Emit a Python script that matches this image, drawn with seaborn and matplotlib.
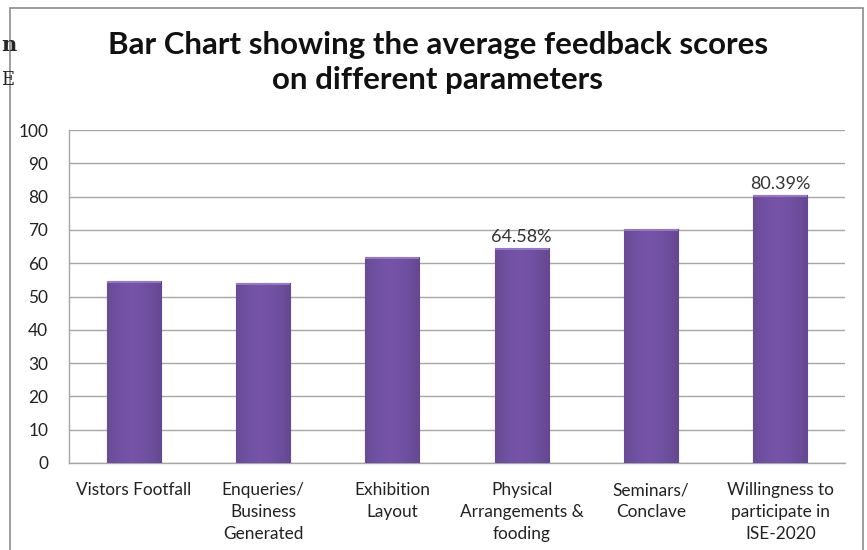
import numpy as np
import pandas as pd
import seaborn as sns
import matplotlib.pyplot as plt
from matplotlib.patches import Rectangle

# Values
categories = ["Vistors Footfall", "Enqueries/\nBusiness\nGenerated", "Exhibition\nLayout",
              "Physical\nArrangements &\nfooding", "Seminars/\nConclave",
              "Willingness to\nparticipate in\nISE-2020"]
scores = [54.6, 54.2, 61.9, 64.58, 70.3, 80.39]
bar_labels = ["", "", "", "64.58%", "", "80.39%"]
y_ticks = [0, 10, 20, 30, 40, 50, 60, 70, 80, 90, 100]

df = pd.DataFrame({"parameter": categories, "score": scores})

sns.set_theme(style="white")
plt.rcParams['font.family'] = ['Lato', 'DejaVu Sans']

fig = plt.figure(figsize=(8.67, 5.5), dpi=100)
ax = fig.add_axes([0.0796, 0.1582, 0.895, 0.6054])

sns.barplot(data=df, x="parameter", y="score", color="#7552A6", width=0.42,
            saturation=1, edgecolor="#5B3B88", linewidth=0.8, ax=ax, zorder=3)

# soft horizontal gradient on each bar, like the Office bevel look
grad = np.linspace(0, 1, 64)
shade = 1 - 0.35 * np.abs(grad - 0.45) ** 1.5
cmap_img = np.zeros((1, 64, 4))
cmap_img[0, :, 0] = 0.46 * shade
cmap_img[0, :, 1] = 0.33 * shade
cmap_img[0, :, 2] = 0.66 * shade
cmap_img[0, :, 3] = 1
for bar in ax.patches:
    x0, w, h = bar.get_x(), bar.get_width(), bar.get_height()
    im = ax.imshow(cmap_img, extent=[x0, x0 + w, 0, h], aspect="auto", zorder=4)
    im.set_clip_path(bar)
    ax.add_patch(Rectangle((x0, h - 0.6), w, 0.6, color="#9479C2", zorder=5, lw=0))

for bar, txt in zip(ax.patches, bar_labels):
    if txt:
        ax.text(bar.get_x() + bar.get_width() / 2, bar.get_height() + 1.0, txt,
                ha="center", va="bottom", fontsize=13, color="#333333", zorder=6)

ax.set_xlim(-0.5, len(categories) - 0.5)
ax.set_ylim(0, 100)
ax.set_yticks(y_ticks)
ax.yaxis.grid(True, color="#A6A6A6", linewidth=1)
ax.set_axisbelow(True)
ax.set_xlabel("")
ax.set_ylabel("")
ax.tick_params(axis="both", length=0, labelsize=12.4, colors="#222222")
ax.tick_params(axis="y", pad=15)
ax.tick_params(axis="x", pad=14)
for lbl in ax.get_xticklabels():
    lbl.set_linespacing(1.45)
for side in ["top", "right"]:
    ax.spines[side].set_visible(False)
for side in ["left", "bottom"]:
    ax.spines[side].set_color("#A6A6A6")
    ax.spines[side].set_linewidth(1)

fig.text(0.505, 0.886, "Bar Chart showing the average feedback scores\non different parameters",
         ha="center", va="center", fontsize=22.5, fontweight="bold", linespacing=1.3,
         color="#111111")

# outer chart frame and page fragments at the left edge
fig.add_artist(Rectangle((0.0115, -0.05), 0.984, 1.0355, transform=fig.transFigure,
                         fill=False, edgecolor="#8C8C8C", linewidth=1.2))
fig.text(0.001, 0.918, "n", fontsize=15, fontweight="bold", family="DejaVu Serif",
         ha="left", va="center")
fig.text(0.001, 0.855, "E", fontsize=13, family="DejaVu Serif", ha="left", va="center")

fig.savefig("out.png", dpi=100, facecolor="white")
